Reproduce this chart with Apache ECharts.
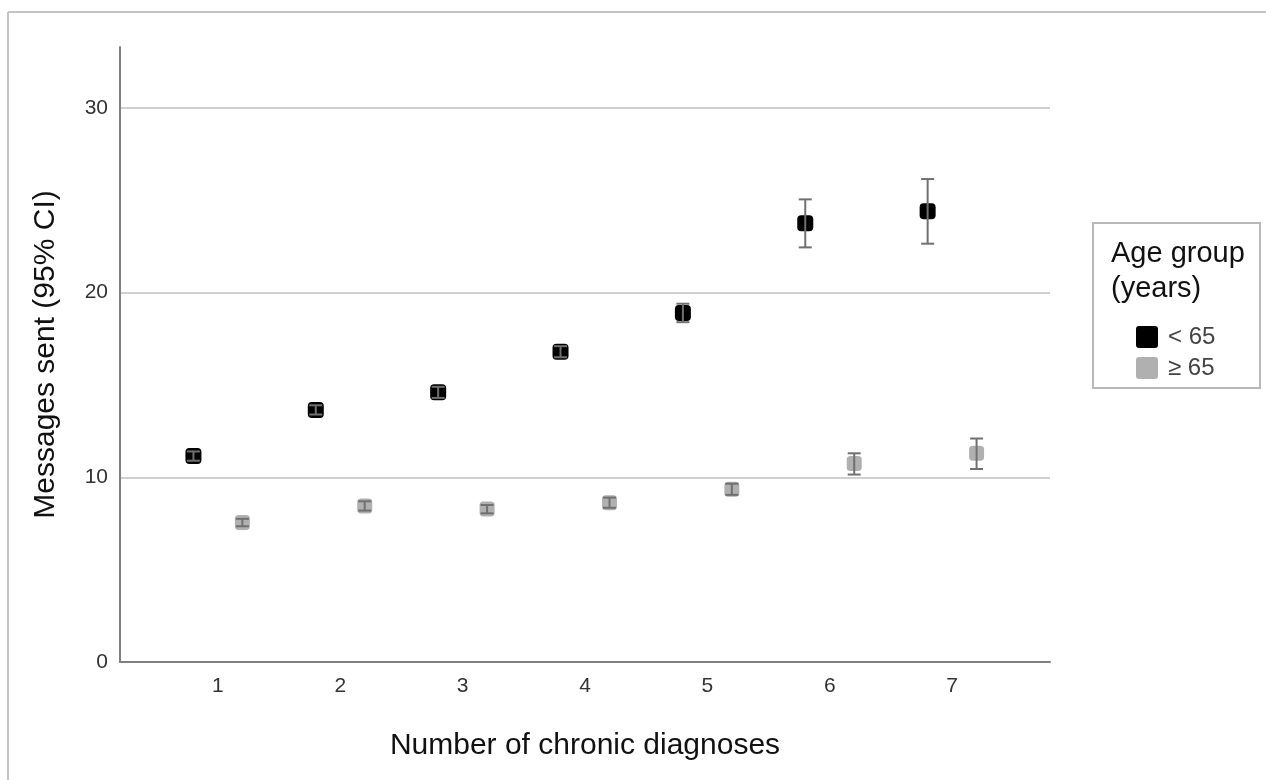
<!DOCTYPE html>
<html>
<head>
<meta charset="utf-8">
<script src="https://cdn.jsdelivr.net/npm/echarts@6/dist/echarts.min.js"></script>
<style>
html,body{margin:0;padding:0;background:#fff;}
#main{width:1266px;height:780px;}
</style>
</head>
<body>
<div id="main"></div>
<script>
// Data
const categories = [1, 2, 3, 4, 5, 6, 7];
const under65Mean = [11.15, 13.65, 14.6, 16.8, 18.9, 23.75, 24.4];
const under65Low  = [10.9, 13.4, 14.3, 16.5, 18.4, 22.45, 22.65];
const under65High = [11.4, 13.9, 14.9, 17.1, 19.4, 25.05, 26.15];
const over65Mean  = [7.55, 8.45, 8.28, 8.62, 9.35, 10.75, 11.3];
const over65Low   = [7.35, 8.2, 8.05, 8.35, 9.05, 10.15, 10.45];
const over65High  = [7.75, 8.7, 8.5, 8.9, 9.65, 11.3, 12.1];
const yTicks = [0, 10, 20, 30];
const offset = 0.2;

const chart = echarts.init(document.getElementById('main'));

function pts(means, sign) {
  return categories.map((c, i) => [c + sign * offset, means[i]]);
}
function bars(low, high, sign) {
  return categories.map((c, i) => [c + sign * offset, low[i], high[i]]);
}
function errRender(params, api) {
  const x = api.value(0);
  const lo = api.coord([x, api.value(1)]);
  const hi = api.coord([x, api.value(2)]);
  const hw = 6.5;
  const style = { stroke: '#707070', lineWidth: 2, fill: null };
  return {
    type: 'group',
    children: [
      { type: 'line', shape: { x1: lo[0], y1: lo[1], x2: hi[0], y2: hi[1] }, style: style },
      { type: 'line', shape: { x1: lo[0] - hw, y1: lo[1], x2: lo[0] + hw, y2: lo[1] }, style: style },
      { type: 'line', shape: { x1: hi[0] - hw, y1: hi[1], x2: hi[0] + hw, y2: hi[1] }, style: style }
    ]
  };
}

const FONT = 'Liberation Sans, Arial, sans-serif';

const option = {
  backgroundColor: '#fff',
  animation: false,
  textStyle: { fontFamily: FONT },
  grid: { left: 120, right: 216, top: 47, bottom: 118 },
  title: {
    text: 'Age group\n(years)',
    left: 1106, top: 231,
    textStyle: { fontSize: 29, fontWeight: 'normal', color: '#111', lineHeight: 35, fontFamily: FONT }
  },
  legend: {
    orient: 'vertical',
    left: 1131, top: 320,
    itemWidth: 22, itemHeight: 22, itemGap: 7,
    icon: 'path://M3,0 L19,0 Q22,0 22,3 L22,19 Q22,22 19,22 L3,22 Q0,22 0,19 L0,3 Q0,0 3,0 Z',
    textStyle: { fontSize: 24, color: '#444', fontFamily: FONT, padding: [0, 0, 0, 5] },
    data: ['< 65', '≥ 65']
  },
  graphic: [
    { type: 'rect', shape: { x: 1093, y: 223, width: 167, height: 165 }, style: { fill: null, stroke: '#b8b8b8', lineWidth: 2 }, z: -1 },
    { type: 'line', shape: { x1: 8, y1: 12, x2: 1266, y2: 12 }, style: { stroke: '#c4c4c4', lineWidth: 2 } },
    { type: 'line', shape: { x1: 8, y1: 12, x2: 8, y2: 780 }, style: { stroke: '#c4c4c4', lineWidth: 2 } }
  ],
  xAxis: {
    type: 'value',
    min: 0.2, max: 7.8,
    name: 'Number of chronic diagnoses',
    nameLocation: 'middle', nameGap: 69,
    nameTextStyle: { fontSize: 30, color: '#111' },
    axisLine: { show: true, lineStyle: { color: '#808080', width: 2 } },
    axisTick: { show: false, customValues: categories },
    axisLabel: { customValues: categories, fontSize: 21, color: '#333', margin: 14 },
    splitLine: { show: false }
  },
  yAxis: {
    type: 'value',
    min: 0, max: 33.3,
    name: 'Messages sent (95% CI)',
    nameLocation: 'middle', nameGap: 59,
    nameTextStyle: { fontSize: 30, color: '#111' },
    axisLine: { show: true, lineStyle: { color: '#808080', width: 2 } },
    axisTick: { show: false, customValues: yTicks },
    axisLabel: { customValues: yTicks, fontSize: 21, color: '#333', margin: 12 },
    splitLine: { show: true, lineStyle: { color: '#d0d0d0', width: 2 } }
  },
  series: [
    {
      name: '< 65', type: 'scatter', symbol: 'roundRect', symbolSize: 16,
      itemStyle: { color: '#000', opacity: 1 }, data: pts(under65Mean, -1), z: 2
    },
    {
      name: '≥ 65', type: 'scatter', symbol: 'roundRect', symbolSize: 15,
      itemStyle: { color: '#b0b0b0', opacity: 1 }, data: pts(over65Mean, 1), z: 2
    },
    {
      type: 'custom', renderItem: errRender, data: bars(under65Low, under65High, -1),
      encode: { x: 0, y: [1, 2] }, z: 3, silent: true
    },
    {
      type: 'custom', renderItem: errRender, data: bars(over65Low, over65High, 1),
      encode: { x: 0, y: [1, 2] }, z: 3, silent: true
    }
  ]
};
chart.setOption(option);
</script>
</body>
</html>
